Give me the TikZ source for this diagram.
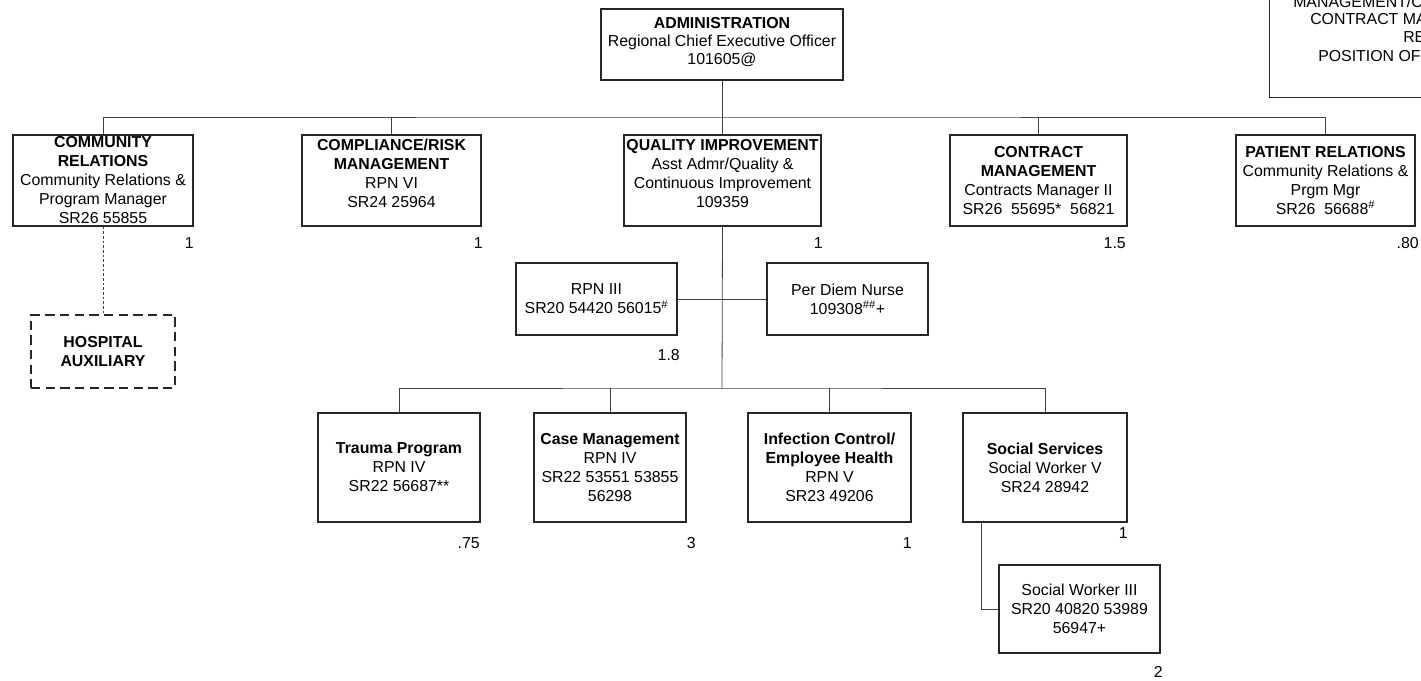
\documentclass[tikz,border=0pt]{standalone}
\usepackage{fontspec}
\setmainfont{Liberation Sans}
\newcommand{\bodyfont}{\fontsize{11.9}{14.25}\selectfont}
\newcommand{\tightfont}{\fontsize{11.9}{13.2}\selectfont}
\begin{document}
\begin{tikzpicture}[x=0.75pt,y=-0.75pt,
  box/.style 2 args={draw=black!85, line width=0.9pt, minimum width=#1*0.75pt,
    minimum height=#2*0.75pt, inner sep=0pt, align=center, font=\bodyfont},
  dbox/.style 2 args={box={#1}{#2}, dash pattern=on 7pt off 4pt},
  conn/.style={draw=black!75, line width=0.6pt},
  lab/.style={font=\bodyfont, inner sep=0pt, anchor=east},
  txt/.style={font=\bodyfont, inner sep=0pt, anchor=west}]
\useasboundingbox (0,0) rectangle (1421,681);
\clip (0,0) rectangle (1421,681);

% legend box at top right (cut by the page edge, as in the original)
\node[draw=black!85, line width=0.9pt, anchor=south west, minimum width=300*0.75pt,
  minimum height=150*0.75pt, inner sep=0pt] (legend) at (1269,98) {};
\node[txt] (lg1) at (1293,2) {MANAGEMENT/C};
\node[txt] (lg2) at (1310,19) {CONTRACT MA};
\node[txt] (lg3) at (1403,37) {RE};
\node[txt] (lg4) at (1318,56) {POSITION OF};

% top
\node[box={242}{71}, font=\tightfont] (admin) at (722,44.5)
  {\textbf{ADMINISTRATION}\\Regional Chief Executive Officer\\101605@\\[-8pt]\mbox{}};

% first row
\node[box={180}{91}] (cr) at (103,180.5)
  {\textbf{COMMUNITY}\\\textbf{RELATIONS}\\Community Relations \&\\Program Manager\\SR26 55855};
\node[box={179}{91}] (comp) at (391.5,180.5)
  {\textbf{COMPLIANCE/RISK}\\\textbf{MANAGEMENT}\\RPN VI\\SR24 25964\\[-4pt]\mbox{}};
\node[box={197}{91}] (qi) at (722.5,180.5)
  {\textbf{QUALITY IMPROVEMENT}\\Asst Admr/Quality \&\\Continuous Improvement\\109359\\[-4pt]\mbox{}};
\node[box={177}{91}] (contract) at (1038.5,180.5)
  {\textbf{CONTRACT}\\\textbf{MANAGEMENT}\\Contracts Manager II\\SR26\ \ 55695*\ \ 56821};
\node[box={179}{91}] (pr) at (1325.5,180.5)
  {\textbf{PATIENT RELATIONS}\\Community Relations \&\\Prgm Mgr\\SR26\ \ 56688\textsuperscript{\#}};

% second level
\node[dbox={144}{73}] (aux) at (103,351.5) {\textbf{HOSPITAL}\\\textbf{AUXILIARY}};
\node[box={161}{72}] (rpn3) at (596.5,299)
  {RPN III\\SR20 54420 56015\textsuperscript{\#}};
\node[box={161}{72}] (perdiem) at (847.5,299)
  {Per Diem Nurse\\109308\textsuperscript{\#\#}+};

% third row
\node[box={162}{109}] (trauma) at (399,467.5)
  {\textbf{Trauma Program}\\RPN IV\\SR22 56687**};
\node[box={152}{109}] (cm) at (610,467.5)
  {\textbf{Case Management}\\RPN IV\\SR22 53551 53855\\56298};
\node[box={163}{109}] (ic) at (829.5,467.5)
  {\textbf{Infection Control/}\\\textbf{Employee Health}\\RPN V\\SR23 49206};
\node[box={164}{109}] (ss) at (1045,467.5)
  {\textbf{Social Services}\\Social Worker V\\SR24 28942};
\node[box={161}{88}] (sw3) at (1079.5,609)
  {Social Worker III\\SR20 40820 53989\\56947+};

% connectors
\coordinate (bus) at (722,117);
\coordinate (bus2) at (722,388);
\draw[conn] (admin.south) -- (bus);
\draw[conn] (cr.north) |- (bus) -| (pr.north);
\draw[conn] (comp.north) -- (comp.north |- bus);
\draw[conn] (qi.north) -- (qi.north |- bus);
\draw[conn] (contract.north) -- (contract.north |- bus);
\draw[conn, dash pattern=on 2pt off 1.5pt] (cr.south) -- (aux.north);
\draw[conn] (qi.south) -- (bus2);
\draw[conn] (rpn3.east) -- (perdiem.west);
\draw[conn] (trauma.north) |- (bus2) -| (ss.north);
\draw[conn] (cm.north) -- (cm.north |- bus2);
\draw[conn] (ic.north) -- (ic.north |- bus2);
\draw[conn] ([xshift=-64*0.75pt]ss.south) |- (sw3.west);

% FTE labels
\node[lab] (n1) at (194,243) {1};
\node[lab] (n2) at (483,243) {1};
\node[lab] (n3) at (823,243) {1};
\node[lab] (n4) at (1126,243) {1.5};
\node[lab] (n5) at (1419,243) {.80};
\node[lab] (n6) at (680,355) {1.8};
\node[lab] (n7) at (480,543) {.75};
\node[lab] (n8) at (696,543) {3};
\node[lab] (n9) at (912,543) {1};
\node[lab] (n10) at (1128,533) {1};
\node[lab] (n11) at (1163,672) {2};
\end{tikzpicture}
\end{document}
